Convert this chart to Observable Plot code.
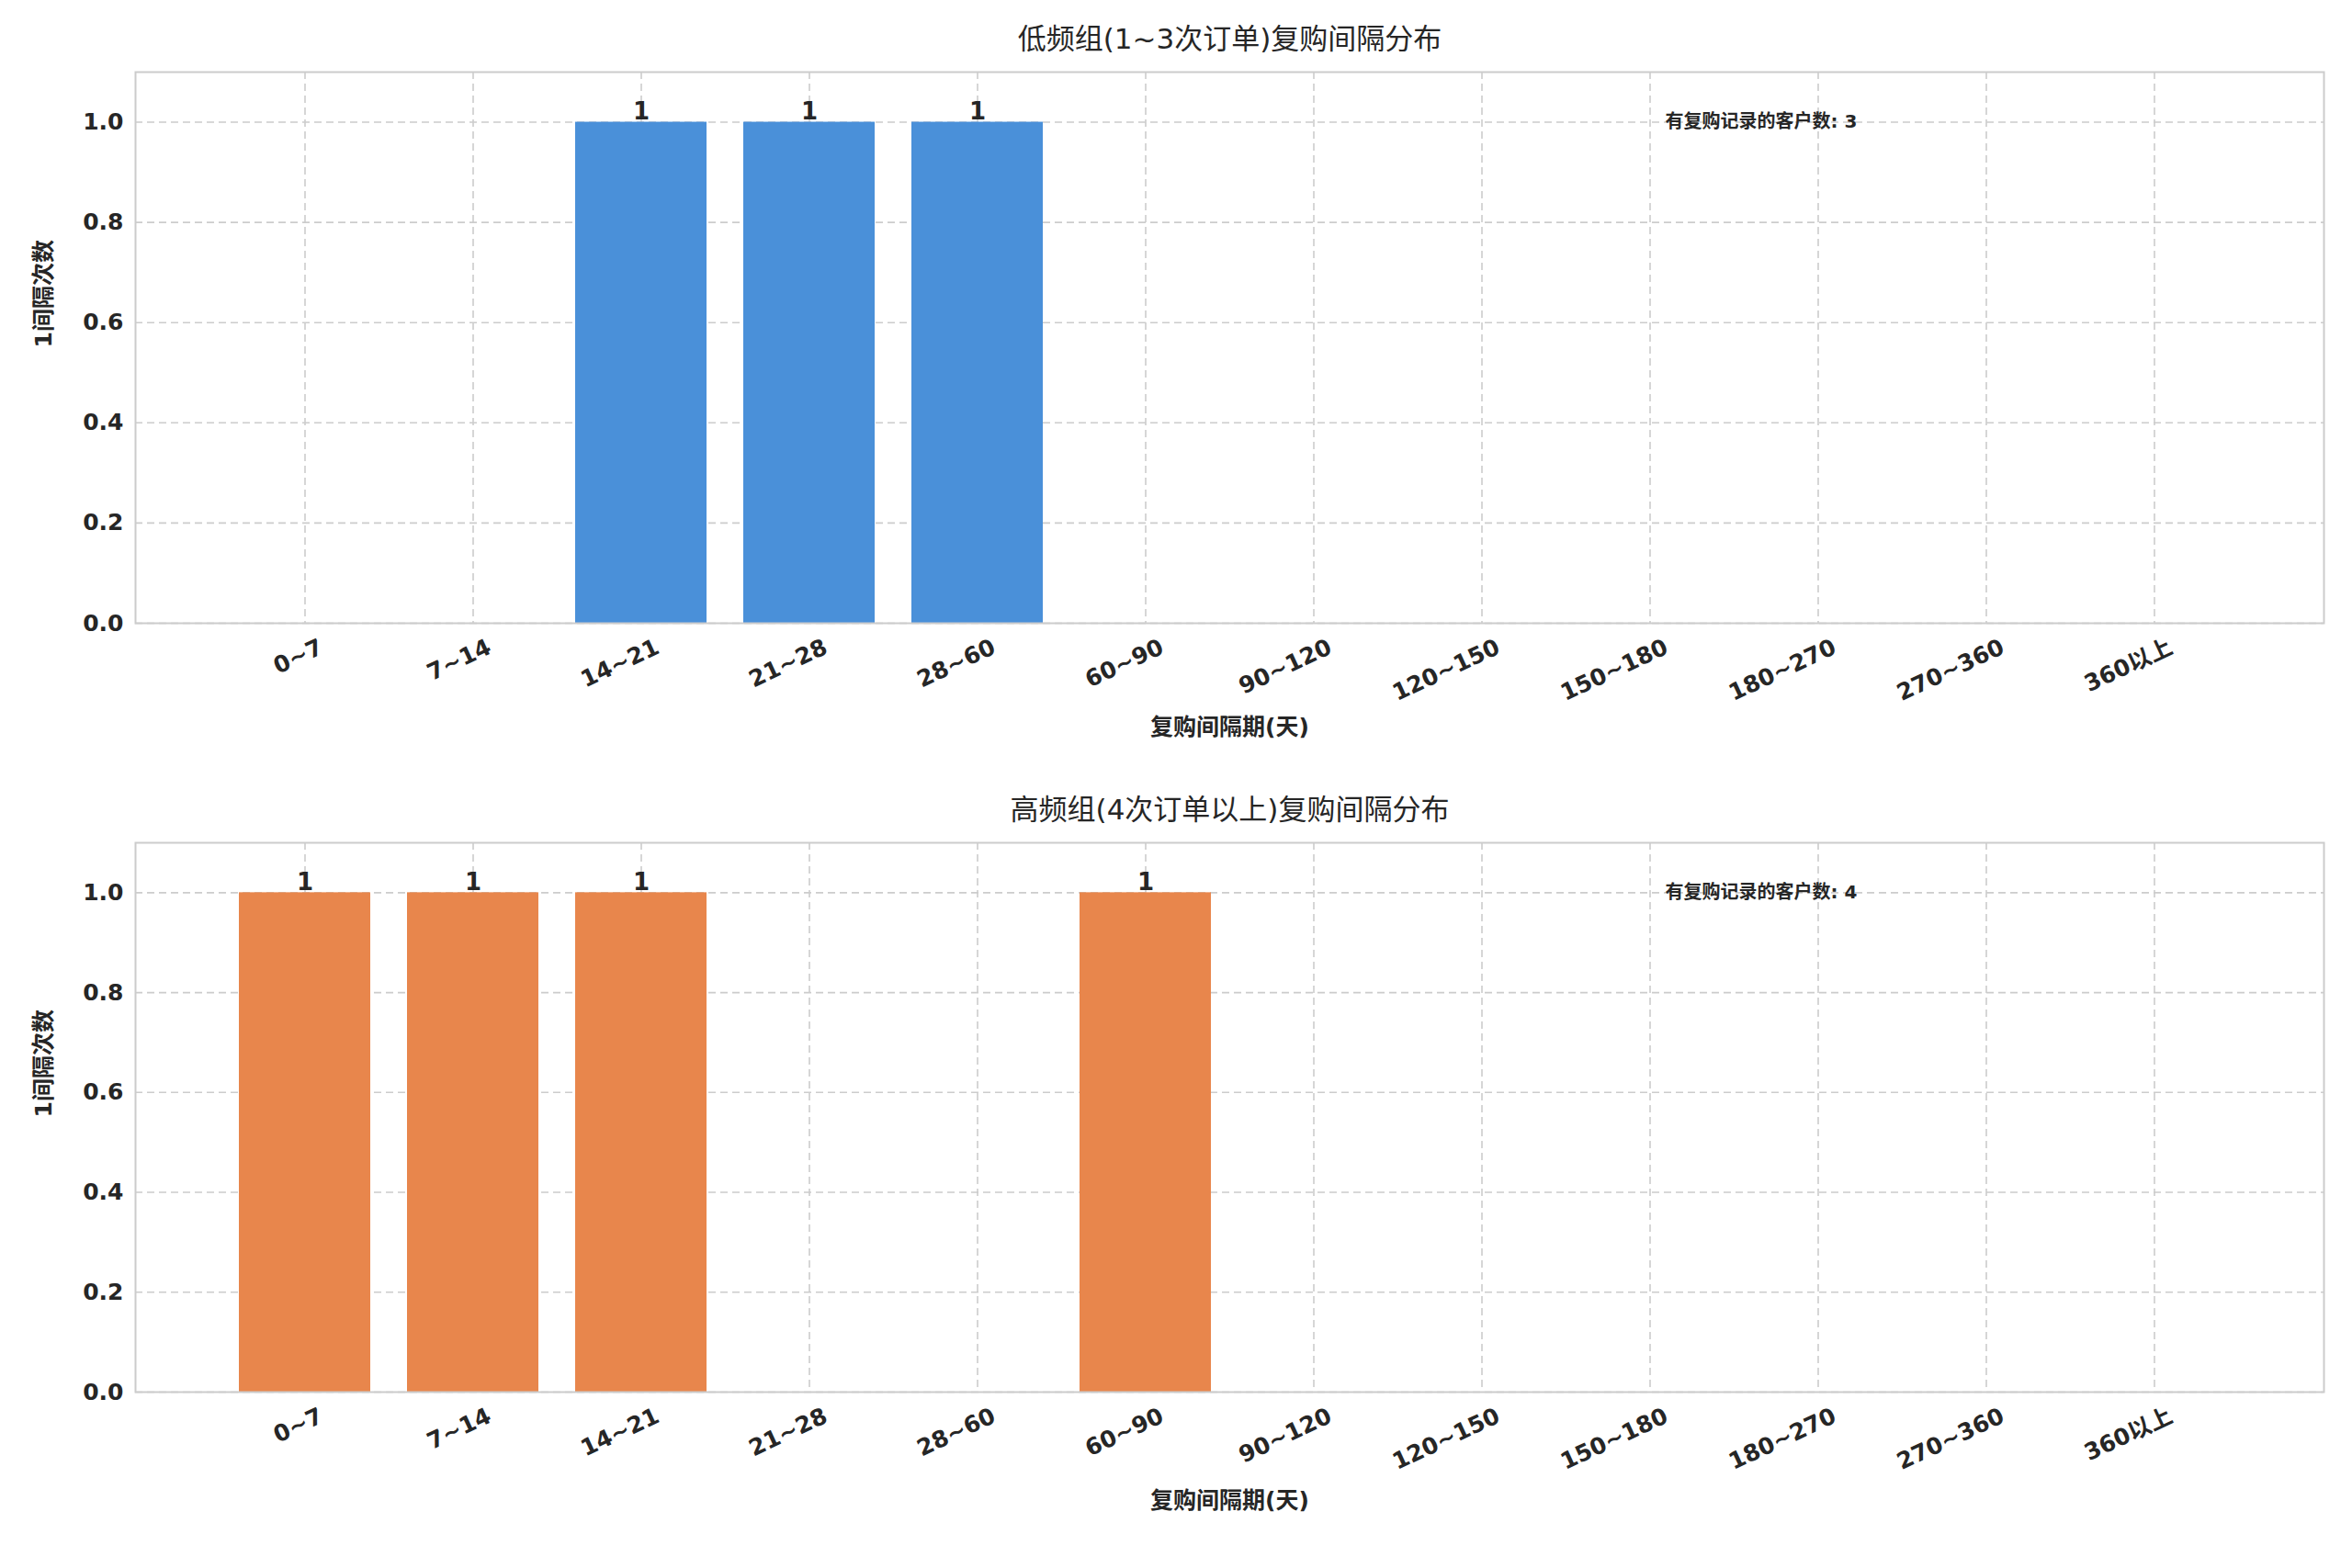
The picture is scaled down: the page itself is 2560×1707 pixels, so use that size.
<!DOCTYPE html>
<html><head><meta charset="utf-8">
<script src="https://cdn.jsdelivr.net/npm/d3@7"></script>
<script src="https://cdn.jsdelivr.net/npm/@observablehq/plot@0.6"></script>
<style>body{margin:0;background:#fff}#c{position:relative;width:2560px;height:1707px}svg{display:block}</style>
</head><body><div id="c"></div>
<script>
const categories = ["0~7","7~14","14~21","21~28","28~60","60~90","90~120","120~150","150~180","180~270","270~360","360以上"];
const lowValues  = [0,0,1,1,1,0,0,0,0,0,0,0];
const highValues = [1,1,1,0,0,1,0,0,0,0,0,0];
const yTicks = [0,0.2,0.4,0.6,0.8,1.0];
const panels = [
  {title:"低频组(1~3次订单)复购间隔分布", values:lowValues, color:"#4a90d9", note:"有复购记录的客户数: 3", h:836, mt:78, mb:158},
  {title:"高频组(4次订单以上)复购间隔分布", values:highValues, color:"#e8864c", note:"有复购记录的客户数: 4", h:871, mt:81, mb:192}
];
const font = "DejaVu Sans, 'Noto Sans CJK SC', sans-serif";
for (const p of panels) {
  const data = categories.map((c,i)=>({cat:c, v:p.values[i]}));
  const W = 2560, ml = 147, mr = 31;
  const svg = Plot.plot({
    width: W, height: p.h, marginLeft: ml, marginRight: mr, marginTop: p.mt, marginBottom: p.mb,
    style: {fontFamily: font, fontSize: "23px", color: "#262626", background: "#fff"},
    x: {domain: categories, paddingInner: 0.22, paddingOuter: 0.595, label: null, tickSize: 0},
    y: {domain: [0,1.1], label: null, tickSize: 0, ticks: yTicks, tickFormat: d3.format(".1f")},
    marks: [
      Plot.gridX(categories, {x: d=>d, stroke:"#cccccc", strokeOpacity:1, strokeDasharray:"8,5", strokeWidth:1.6}),
      Plot.gridY(yTicks, {y: d=>d, stroke:"#cccccc", strokeOpacity:1, strokeDasharray:"8,5", strokeWidth:1.6}),
      Plot.barY(data, {x:"cat", y:"v", fill:p.color}),
      Plot.text(data.filter(d=>d.v>0), {x:"cat", y:"v", text:d=>String(d.v), dy:-11, fontWeight:"bold", fontSize:26, fill:"#262626"}),
      Plot.text([p.note], {frameAnchor:"left", y:()=>1.0, dx: 1665, textAnchor:"start", fontSize:20, fontWeight:"bold", fill:"#262626"}),
      Plot.axisX({tickSize:0, tickRotate:-25, fontWeight:"bold", fontSize:25, textAnchor:"end", dy:12, dx:18, fill:"#262626"}),
      Plot.axisY({ticks:yTicks, tickSize:0, tickFormat:d3.format(".1f"), fontWeight:"bold", fontSize:25, dx:-4, fill:"#262626"}),
      Plot.text([p.title], {frameAnchor:"top", dy:-48, fontSize:31, fill:"#262626"}),
      Plot.text(["复购间隔期(天)"], {frameAnchor:"bottom", dy: p.mb - 37 - (p.mb-158)*0.85, fontSize:25, fontWeight:"bold", fill:"#262626"}),
      Plot.text(["1间隔次数"], {frameAnchor:"left", dx:-100, rotate:-90, fontSize:25, fontWeight:"bold", fill:"#262626"}),
      Plot.frame({stroke:"#cccccc", strokeWidth:2})
    ]
  });
  document.getElementById("c").appendChild(svg);
}
</script></body></html>
